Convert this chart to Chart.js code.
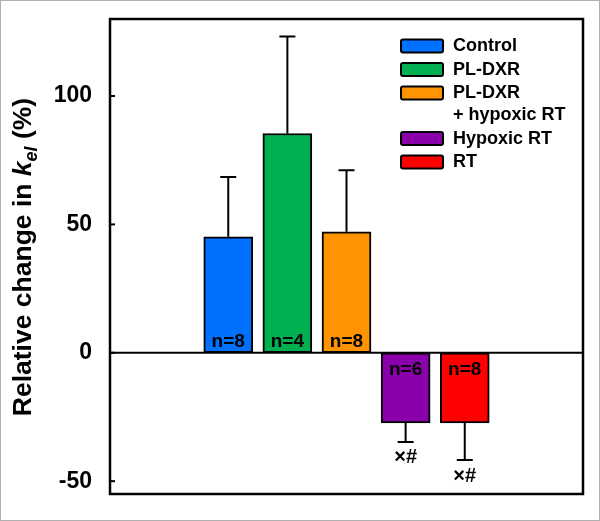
<!DOCTYPE html>
<html>
<head>
<meta charset="utf-8">
<script src="https://cdn.jsdelivr.net/npm/chart.js@4"></script>
<style>
  html, body { margin: 0; padding: 0; background: #fff; }
  #wrap { width: 600px; height: 521px; position: relative; }
</style>
</head>
<body>
<div id="wrap"><canvas id="chart"></canvas></div>
<script>
// data
const groups = ["Control", "PL-DXR", "PL-DXR\n+ hypoxic RT", "Hypoxic RT", "RT"];
const xPos = [2, 3, 4, 5, 6];
const means = [45.2, 85.4, 47.1, -27.3, -27.3];
const sd = [23.3, 37.8, 24.0, 7.4, 14.5];
const nLabels = ["n=8", "n=4", "n=8", "n=6", "n=8"];
const sigMarks = ["", "", "", "×#", "×#"];
const yTicks = [-50, 0, 50, 100];
const colors = ["#0070ff", "#00b050", "#ff9400", "#8a00aa", "#ff0000"];

const FONT = "'Liberation Sans', Arial, sans-serif";

const extras = {
  id: "extras",
  afterDatasetsDraw(chart) {
    const ctx = chart.ctx;
    const area = chart.chartArea;
    const y = chart.scales.y;
    const meta = chart.getDatasetMeta(0);
    ctx.save();
    ctx.strokeStyle = "#000";
    ctx.fillStyle = "#000";
    ctx.lineWidth = 2;

    // zero line
    const y0 = y.getPixelForValue(0);
    ctx.beginPath();
    ctx.moveTo(area.left, y0);
    ctx.lineTo(area.right, y0);
    ctx.stroke();

    meta.data.forEach((bar, i) => {
      const cx = bar.x;
      const dir = means[i] >= 0 ? 1 : -1;
      const yStart = y.getPixelForValue(means[i]);
      const yEnd = y.getPixelForValue(means[i] + dir * sd[i]);
      // error bar
      ctx.beginPath();
      ctx.moveTo(cx, yStart);
      ctx.lineTo(cx, yEnd);
      ctx.moveTo(cx - 8, yEnd);
      ctx.lineTo(cx + 8, yEnd);
      ctx.stroke();

      // n labels
      ctx.font = "bold 19px " + FONT;
      ctx.textAlign = "center";
      ctx.textBaseline = "middle";
      ctx.fillText(nLabels[i], cx, dir > 0 ? y0 - 11 : y0 + 17);

      // significance marks
      if (sigMarks[i]) {
        ctx.font = "bold 20px " + FONT;
        ctx.fillText(sigMarks[i], cx, yEnd + 16);
      }
    });
    ctx.restore();
  },
  afterDraw(chart) {
    const ctx = chart.ctx;
    const area = chart.chartArea;
    const y = chart.scales.y;
    ctx.save();

    // outer light border
    ctx.strokeStyle = "#b0b0b0";
    ctx.lineWidth = 1;
    ctx.strokeRect(0.5, 0.5, chart.width - 1, chart.height - 1);

    // plot frame
    ctx.strokeStyle = "#000";
    ctx.lineWidth = 2.5;
    ctx.strokeRect(area.left, area.top, area.right - area.left, area.bottom - area.top);

    // inward tick marks
    ctx.lineWidth = 2;
    yTicks.forEach(v => {
      const py = y.getPixelForValue(v);
      ctx.beginPath();
      ctx.moveTo(area.left, py);
      ctx.lineTo(area.left + 5, py);
      ctx.stroke();
    });

    // legend
    let ly = 45.5;
    ctx.font = "bold 18px " + FONT;
    ctx.textAlign = "left";
    ctx.textBaseline = "middle";
    groups.forEach((g, i) => {
      ctx.fillStyle = colors[i];
      ctx.beginPath();
      ctx.roundRect(401, ly - 6, 42, 13, 2);
      ctx.fill();
      ctx.lineWidth = 2;
      ctx.strokeStyle = "#000";
      ctx.stroke();
      ctx.fillStyle = "#000";
      const lines = g.split("\n");
      lines.forEach((t, k) => ctx.fillText(t, 453, ly + 1 + k * 22));
      ly += 23.5 + (lines.length - 1) * 22;
    });

    // y axis title with italic k and subscript el
    const parts = [
      { t: "Relative change in ", f: "bold 26.5px " + FONT, dy: 0 },
      { t: "k", f: "italic bold 26.5px " + FONT, dy: 0 },
      { t: "el", f: "italic bold 18px " + FONT, dy: 6 },
      { t: " (%)", f: "bold 26.5px " + FONT, dy: 0 }
    ];
    let total = 0;
    parts.forEach(p => { ctx.font = p.f; p.w = ctx.measureText(p.t).width; total += p.w; });
    ctx.translate(31, 257);
    ctx.rotate(-Math.PI / 2);
    ctx.fillStyle = "#000";
    ctx.textAlign = "left";
    ctx.textBaseline = "alphabetic";
    let px = -total / 2;
    parts.forEach(p => {
      ctx.font = p.f;
      ctx.fillText(p.t, px, p.dy);
      px += p.w;
    });
    ctx.restore();
  }
};

new Chart(document.getElementById("chart"), {
  type: "bar",
  data: {
    datasets: [{
      data: xPos.map((x, i) => ({ x: x, y: means[i] })),
      backgroundColor: colors,
      borderColor: "#000",
      borderWidth: 2,
      borderSkipped: false,
      barThickness: 49
    }]
  },
  options: {
    responsive: true,
    maintainAspectRatio: false,
    animation: false,
    layout: { padding: { left: 0, top: 19, right: 17, bottom: 27 } },
    plugins: { legend: { display: false }, tooltip: { enabled: false } },
    scales: {
      x: { type: "linear", min: 0, max: 8, offset: false, display: false },
      y: {
        min: -55,
        max: 130,
        afterFit(s) { s.width = 110; s.paddingTop = 0; s.paddingBottom = 0; },
        afterBuildTicks(s) { s.ticks = yTicks.map(v => ({ value: v })); },
        grid: { display: false },
        border: { display: false },
        ticks: {
          color: "#000",
          padding: 10,
          font: { family: FONT, size: 23, weight: "bold" }
        }
      }
    }
  },
  plugins: [extras]
});
</script>
</body>
</html>
